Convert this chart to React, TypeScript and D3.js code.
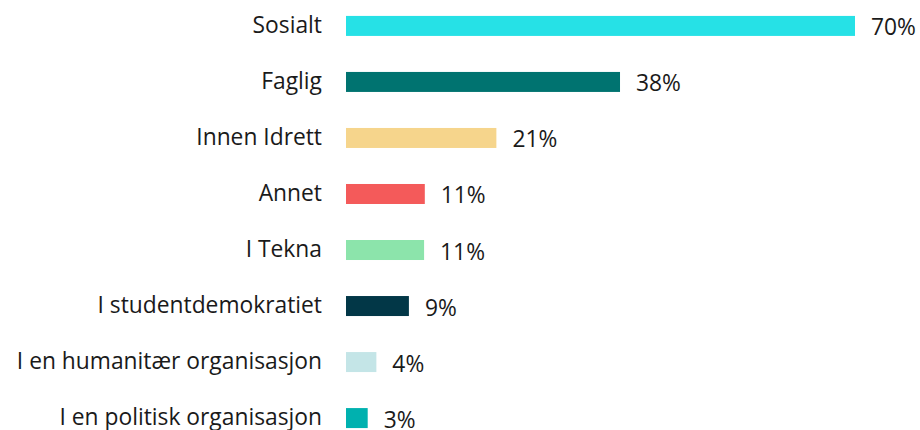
import React from "react";
import * as d3 from "d3";

const categories = [
  "Sosialt",
  "Faglig",
  "Innen Idrett",
  "Annet",
  "I Tekna",
  "I studentdemokratiet",
  "I en humanitær organisasjon",
  "I en politisk organisasjon",
];
const values = [70.4, 37.9, 20.8, 10.9, 10.8, 8.7, 4.2, 3.0];
const colors = [
  "#26E1E6",
  "#007370",
  "#F6D58C",
  "#F45A5A",
  "#8CE4AB",
  "#023747",
  "#C4E5E7",
  "#00B1AF",
];

export default function App() {
  const W = 920;
  const H = 430;
  const x = d3.scaleLinear().domain([0, 100]).range([346, 346 + 723]);
  const y = d3
    .scaleBand<string>()
    .domain(categories)
    .range([-2, 446])
    .paddingInner(0.643)
    .paddingOuter(0.32);
  const font = "'Open Sans', sans-serif";
  return (
    <svg
      width={W}
      height={H}
      style={{ position: "absolute", left: 0, top: 0 }}
      fontFamily={font}
    >
      {categories.map((c, i) => {
        const yy = y(c)!;
        const bw = y.bandwidth();
        const cy = yy + bw / 2;
        return (
          <g key={c}>
            <rect
              x={x(0)}
              y={yy}
              width={x(values[i]) - x(0)}
              height={bw}
              fill={colors[i]}
            />
            <text
              x={322}
              y={cy + 7}
              textAnchor="end"
              fontSize={22.8}
              fill="#1a1a1a"
            >
              {c}
            </text>
            <text
              x={x(values[i]) + 16}
              y={cy + 9.5}
              fontSize={22.8}
              fill="#1a1a1a"
            >
              {Math.round(values[i]) + "%"}
            </text>
          </g>
        );
      })}
    </svg>
  );
}
